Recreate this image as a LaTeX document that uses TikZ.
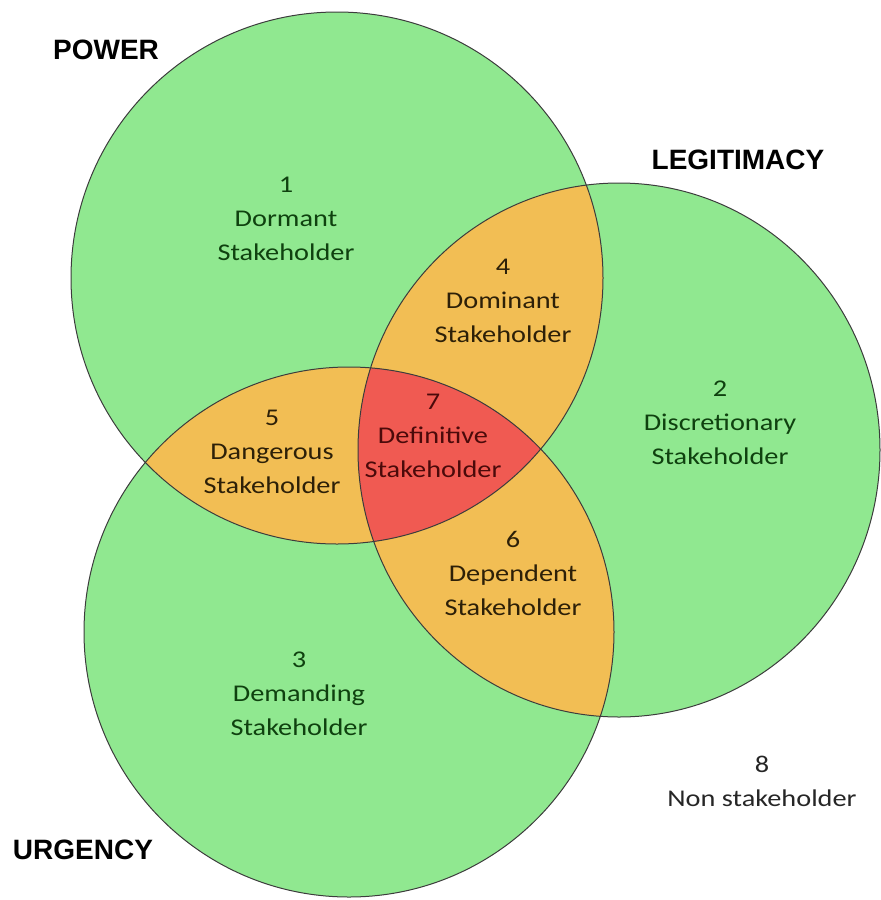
\documentclass[tikz,border=0pt]{standalone}
\usepackage{fontspec}
\setmainfont{Carlito}
\newfontfamily\headfont{Liberation Sans}
\definecolor{vgreen}{RGB}{144,232,144}
\definecolor{vorange}{RGB}{242,190,84}
\definecolor{vred}{RGB}{240,90,82}
\definecolor{tgreen}{RGB}{15,65,15}
\definecolor{torange}{RGB}{45,32,8}
\definecolor{tred}{RGB}{75,10,10}
\definecolor{edge}{RGB}{60,60,60}
\begin{document}
\begin{tikzpicture}[x=1pt,y=-1pt,
  outline/.style={draw=edge,line width=1pt},
  region/.style={align=center,inner sep=0pt,xscale=1.18,font=\fontsize{24}{34}\selectfont},
  heading/.style={inner sep=0pt,font=\headfont\bfseries\fontsize{28}{34}\selectfont}]
\useasboundingbox (0,0) rectangle (881,900);
\def\Pow{(337,278) circle [radius=266]}
\def\Urg{(349,632) circle [radius=265]}
\def\Leg{(619,450) ellipse [x radius=261, y radius=267]}
\fill[vgreen] \Pow;
\fill[vgreen] \Urg;
\fill[vgreen] \Leg;
\begin{scope}
  \clip \Pow;
  \fill[vorange] \Urg;
  \fill[vorange] \Leg;
\end{scope}
\begin{scope}
  \clip \Urg;
  \fill[vorange] \Leg;
\end{scope}
\begin{scope}
  \clip \Pow;
  \clip \Urg;
  \fill[vred] \Leg;
\end{scope}
\draw[outline] \Pow;
\draw[outline] \Urg;
\draw[outline] \Leg;

\node[heading] (power) at (106,50) {POWER};
\node[heading] (legit) at (738,160) {LEGITIMACY};
\node[heading] (urgency) at (83,850) {URGENCY};

\node[region,text=tgreen] (r1) at (286,219) {1\\Dormant\\Stakeholder};
\node[region,text=tgreen] (r2) at (720,423) {2\\Discretionary\\Stakeholder};
\node[region,text=tgreen] (r3) at (299,694) {3\\Demanding\\Stakeholder};
\node[region,text=torange] (r4) at (503,301) {4\\Dominant\\Stakeholder};
\node[region,text=torange] (r5) at (272,452) {5\\Dangerous\\Stakeholder};
\node[region,text=torange] (r6) at (513,573) {6\\Dependent\\Stakeholder};
\node[region,text=tred] (r7) at (433,436) {7\\Definitive\\Stakeholder};
\node[region,text=black!85] (r8) at (762,781) {8\\Non stakeholder};
\end{tikzpicture}
\end{document}
